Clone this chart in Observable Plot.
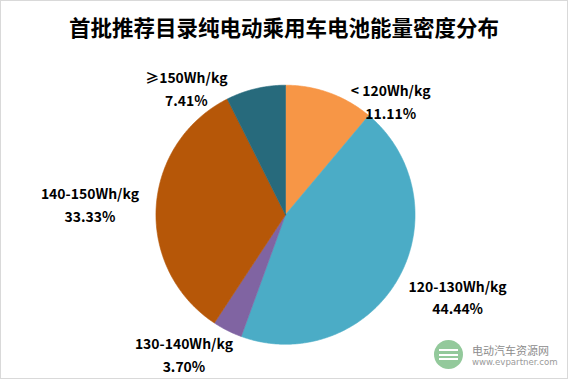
<!DOCTYPE html>
<html><head><meta charset="utf-8">
<script src="https://cdn.jsdelivr.net/npm/d3@7"></script>
<script src="https://cdn.jsdelivr.net/npm/@observablehq/plot@0.6"></script>
<style>
html,body{margin:0;padding:0;background:#fff;}
#wrap{position:relative;width:568px;height:379px;box-sizing:border-box;border:1px solid #d9d9d9;overflow:hidden;font-family:"Noto Sans CJK SC","Noto Sans",sans-serif;}
#title{position:absolute;left:0;right:0;top:11px;text-align:center;font-size:21.5px;font-weight:700;color:#000;line-height:30px;}
#chart{position:absolute;left:0;top:0;}
#wm{position:absolute;left:433px;top:339px;width:29px;height:29px;border-radius:50%;background:#93c99b;}
#wm i{position:absolute;left:5px;right:5px;height:2px;background:#fff;}
#wmt{position:absolute;left:471px;top:342px;color:#8c8c8c;font-size:11px;line-height:15px;}
#wmu{position:absolute;left:471px;top:355px;color:#9a9a9a;font-size:8.6px;line-height:12px;font-family:"DejaVu Sans",sans-serif;}
</style></head>
<body>
<div id="wrap">
  <div id="chart"></div>
  <div id="title">首批推荐目录纯电动乘用车电池能量密度分布</div>
  <div id="wm"><i style="top:9px"></i><i style="top:13.5px"></i><i style="top:18px"></i></div>
  <div id="wmt">电动汽车资源网</div>
  <div id="wmu">www.evpartner.com</div>
</div>
<script>
const categories = ["< 120Wh/kg", "120-130Wh/kg", "130-140Wh/kg", "140-150Wh/kg", "≥150Wh/kg"];
const shares = [11.11, 44.44, 3.70, 33.33, 7.41];
const shareLabels = ["11.11%", "44.44%", "3.70%", "33.33%", "7.41%"];
const colors = ["#F79646", "#4BACC6", "#8064A2", "#B65708", "#276A7C"];
// label nudges (px) from the mid-angle anchor
const labelNudge = [[50, 38], [32, 0], [-29, -6], [-34, -2], [-62, 30]];

const W = 568, H = 379, R = 130, CX = 285, CY = 214;
const pie = d3.pie().sort(null).value(d => d)(shares);

const polys = [];
pie.forEach((s, i) => {
  const pts = [[0, 0]];
  const n = Math.max(2, Math.ceil((s.endAngle - s.startAngle) / (Math.PI / 360)));
  for (let k = 0; k <= n; k++) {
    const a = s.startAngle + (s.endAngle - s.startAngle) * k / n;
    pts.push([Math.sin(a), Math.cos(a)]);
  }
  pts.push([0, 0]);
  pts.forEach(p => polys.push({x: p[0], y: p[1], cat: categories[i]}));
});

const labels = pie.map((s, i) => {
  const a = (s.startAngle + s.endAngle) / 2;
  return {x: 1.25 * Math.sin(a), y: 1.25 * Math.cos(a), text: categories[i] + "\n" + shareLabels[i], dx: labelNudge[i][0], dy: labelNudge[i][1]};
});

const chart = Plot.plot({
  width: W, height: H, margin: 0,
  style: {background: "transparent", fontFamily: "'Noto Sans CJK SC','Noto Sans',sans-serif"},
  x: {axis: null, domain: [-CX / R, (W - CX) / R]},
  y: {axis: null, domain: [-(H - CY) / R, CY / R]},
  color: {domain: categories, range: colors},
  marks: [
    Plot.line(polys, {x: "x", y: "y", z: "cat", fill: "cat", stroke: "cat", strokeWidth: 0.6, curve: "linear"}),
    ...labels.map(l => Plot.text([l], {x: "x", y: "y", text: "text", dx: l.dx, dy: l.dy, fontSize: 14, fontWeight: 700, fill: "#000", lineHeight: 1.62, textAnchor: "middle"}))
  ]
});
document.getElementById("chart").appendChild(chart);
</script>
</body></html>
